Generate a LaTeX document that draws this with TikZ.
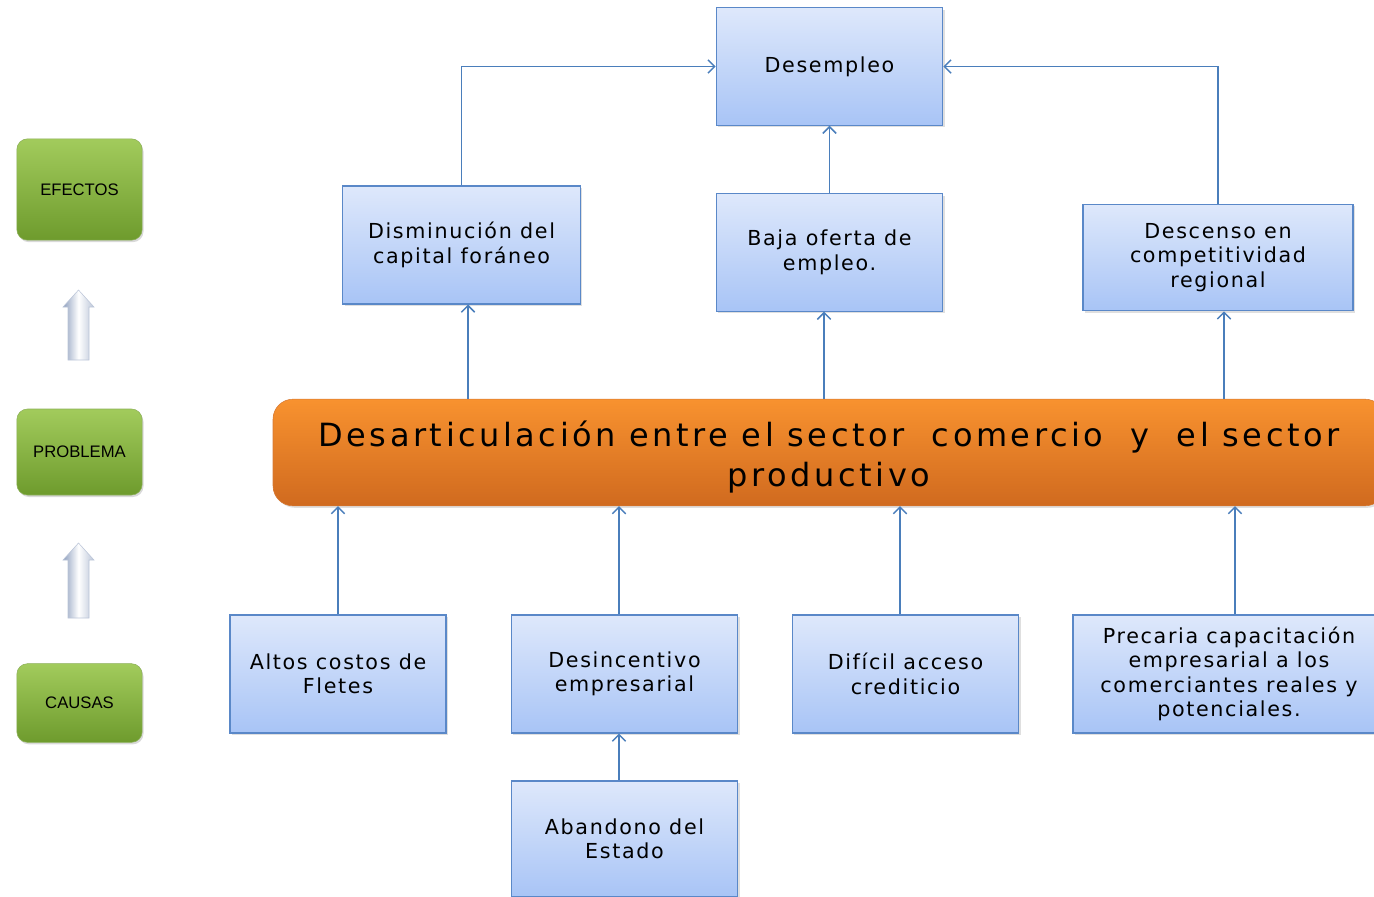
\documentclass[tikz,border=0pt]{standalone}
\usepackage{fontspec}
\setmainfont{Liberation Sans}
\newfontfamily\boxfont[LetterSpace=8]{DejaVu Sans}
\newfontfamily\bigfont[LetterSpace=11]{DejaVu Sans}
\usetikzlibrary{arrows.meta,shadows}

\definecolor{lineablue}{HTML}{4A7EBB}
\definecolor{boxedge}{HTML}{5A88C8}
\definecolor{bluetop}{HTML}{DEE8FB}
\definecolor{bluebot}{HTML}{A8C4F6}
\definecolor{orangetop}{HTML}{F8922F}
\definecolor{orangebot}{HTML}{D06A1F}
\definecolor{greentop}{HTML}{A2CB5C}
\definecolor{greenbot}{HTML}{6E9B2D}
\definecolor{arrowside}{HTML}{8E9FBE}

\begin{document}
\begin{tikzpicture}[x=0.75pt,y=-0.75pt,
  cajaazul/.style={draw=boxedge, line width=0.8pt, top color=bluetop, bottom color=bluebot,
    minimum width=170pt, minimum height=88pt, inner sep=2pt, align=center,
    font=\boxfont\fontsize{15.5}{18.4}\selectfont,
    drop shadow={shadow xshift=1.5pt, shadow yshift=-1.5pt, opacity=0.25}},
  cajaverde/.style={rounded corners=8pt, draw=greenbot!80, top color=greentop, bottom color=greenbot,
    minimum width=94pt, align=center, font=\fontsize{12.5}{14}\selectfont,
    drop shadow={shadow xshift=1pt, shadow yshift=-1.5pt, opacity=0.3}},
  flecha/.style={draw=lineablue, line width=1.1pt, -{Straight Barb[length=5pt,width=10pt]}}]

\clip (0,0) rectangle (1374,896);

% niveles
\node[cajaverde, minimum height=76pt] (efectos) at (79.5,189.5) {EFECTOS};
\node[cajaverde, minimum height=64.5pt] (problema) at (79.5,452) {PROBLEMA};
\node[cajaverde, minimum height=59pt] (causas) at (79.5,703) {CAUSAS};
\foreach \t/\b in {290/360, 543/618}
  \shade[left color=arrowside, right color=arrowside!60, middle color=white, draw=arrowside!60, line width=0.4pt]
    (68,\b) -- (68,\t+17) -- (63,\t+17) -- (78.5,\t) -- (94,\t+17) -- (89,\t+17) -- (89,\b) -- cycle;

% efectos
\node[cajaazul] (desem) at (829.5,66.5) {Desempleo};
\node[cajaazul, minimum width=178pt, minimum height=88.5pt] (dismi) at (461.5,245) {Disminución del\\capital foráneo};
\node[cajaazul] (baja) at (829.5,252.5) {Baja oferta de\\empleo.};
\node[cajaazul, minimum width=202.5pt, minimum height=80pt] (desc) at (1218,257.5) {Descenso en\\competitividad\\regional};

% problema
\node[rounded corners=15pt, draw=orangebot!90, top color=orangetop, bottom color=orangebot,
  minimum width=834pt, minimum height=80pt, align=center,
  font=\bigfont\fontsize{24}{30.5}\selectfont,
  drop shadow={shadow xshift=1.5pt, shadow yshift=-1.5pt, opacity=0.25}] (problem) at (829,452.5)
  {\rule{0pt}{26pt}Desarticulación entre el sector\ \ comercio\ \ y\ \ el sector\\productivo};

% causas
\node[cajaazul, minimum width=162pt, minimum height=88.5pt] (altos) at (338,674) {Altos costos de\\Fletes};
\node[cajaazul, minimum height=88.5pt] (desin) at (624.5,674) {Desincentivo\\empresarial};
\node[cajaazul, minimum height=88.5pt] (dificil) at (905.5,674) {Difícil acceso\\crediticio};
\node[cajaazul, minimum width=234pt, minimum height=88.5pt] (precaria) at (1229,674) {Precaria capacitación\\empresarial a los\\comerciantes reales y\\potenciales.};
\node[cajaazul, minimum height=87pt] (aband) at (624.5,839) {Abandono del\\Estado};

% puntos de llegada
\coordinate (dismiin) at ([xshift=4.9pt]dismi.south);
\coordinate (bajain) at ([xshift=-4.1pt]baja.south);
\coordinate (descin) at ([xshift=4.5pt]desc.south);
\coordinate (desinout) at ([xshift=-4.1pt]desin.north);
\coordinate (desinin) at ([xshift=-4.1pt]desin.south);
\coordinate (dificilout) at ([xshift=-4.1pt]dificil.north);
\coordinate (precariaout) at ([xshift=4.5pt]precaria.north);

% conectores
\draw[flecha] (problem.north -| dismiin) -- (dismiin);
\draw[flecha] (problem.north -| bajain) -- (bajain);
\draw[flecha] (problem.north -| descin) -- (descin);
\draw[flecha] (baja.north) -- (desem.south);
\draw[flecha] (dismi.north) |- (desem.west);
\draw[flecha] (desc.north) |- (desem.east);

\draw[flecha] (altos.north) -- (altos.north |- problem.south);
\draw[flecha] (desinout) -- (desinout |- problem.south);
\draw[flecha] (dificilout) -- (dificilout |- problem.south);
\draw[flecha] (precariaout) -- (precariaout |- problem.south);
\draw[flecha] (aband.north -| desinin) -- (desinin);
\end{tikzpicture}
\end{document}
